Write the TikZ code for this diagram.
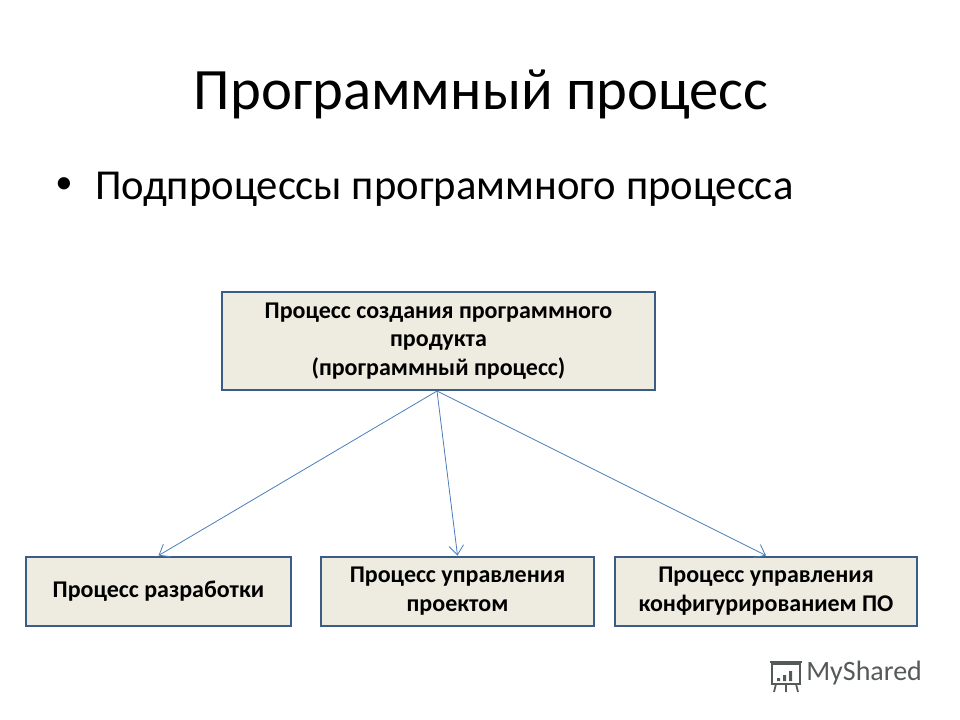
\documentclass[tikz,border=0pt]{standalone}
\usepackage{fontspec}
\setmainfont{Carlito}
\usetikzlibrary{arrows.meta}
\definecolor{boxfill}{HTML}{EEECE1}
\definecolor{boxline}{HTML}{3B5C85}
\definecolor{arrowc}{HTML}{4A7EBB}
\definecolor{logoc}{HTML}{555A58}
\tikzset{
  procbox/.style={draw=boxline, line width=2.2pt, fill=boxfill, align=center,
    font=\fontsize{18pt}{21.6pt}\selectfont\bfseries, inner sep=0pt},
  link/.style={draw=arrowc, line width=0.6pt, -{Straight Barb[length=7pt,width=11pt,line width=0.6pt]}},
}
\begin{document}
\begin{tikzpicture}[x=0.75pt,y=-0.75pt]
\useasboundingbox (0,0) rectangle (960,720);
\node[font=\fontsize{44pt}{52pt}\selectfont] (title) at (481,95) {Программный процесс};
\node[font=\fontsize{32pt}{38pt}\selectfont, anchor=west, inner sep=0pt] (bullet) at (95,189) {Подпроцессы программного процесса};
\node[font=\fontsize{26pt}{30pt}\selectfont, inner sep=0pt] (dot) at (64,186) {•};
\node[procbox, minimum width=433*0.75pt, minimum height=98*0.75pt] (top) at (438.5,341)
  {Процесс создания программного\\продукта\\(программный процесс)};
\node[procbox, minimum width=265*0.75pt, minimum height=69*0.75pt] (b1) at (158.5,591.5) {Процесс разработки};
\node[procbox, minimum width=273*0.75pt, minimum height=69*0.75pt] (b2) at (457.5,591.5) {Процесс управления\\проектом};
\node[procbox, minimum width=302*0.75pt, minimum height=69*0.75pt] (b3) at (766,591.5) {Процесс управления\\конфигурированием ПО};
\coordinate (src) at (437,391);
\draw[link] (src) -- (b1.north);
\draw[link] (src) -- (b2.north);
\draw[link] (src) -- (b3.north);
% logo
\node[font=\fontsize{21pt}{24pt}\selectfont, text=logoc, anchor=west, inner sep=0pt] (logo) at (806,673) {MyShared};
\draw[logoc, line width=1.3pt] (772,664) rectangle (800,684);
\draw[logoc, line width=1.3pt] (770,662) -- (802,662);
\draw[logoc, line width=1.3pt] (776,684) -- (774,692) (786,684) -- (786,692) (796,684) -- (798,692);
\fill[logoc] (777,678) rectangle (780,681) (783,675) rectangle (786,681) (789,671) rectangle (792,681);
\end{tikzpicture}
\end{document}
